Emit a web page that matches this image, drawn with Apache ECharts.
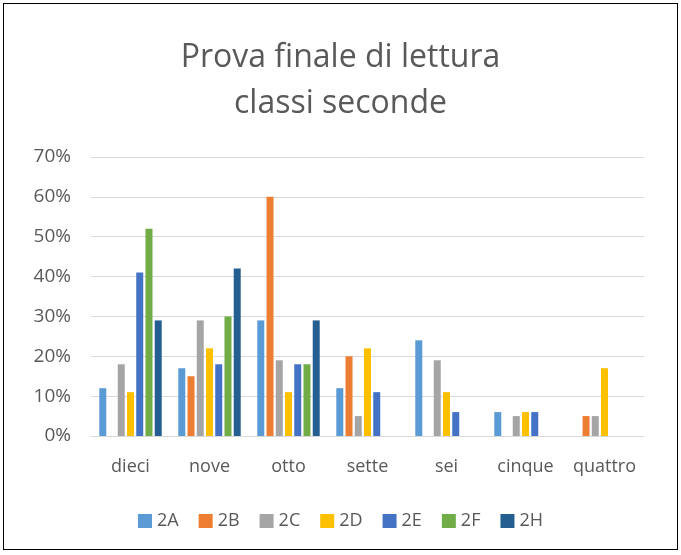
<!DOCTYPE html>
<html>
<head>
<meta charset="utf-8">
<script src="https://cdn.jsdelivr.net/npm/echarts@6/dist/echarts.min.js"></script>
<style>
  html, body { margin: 0; padding: 0; background: #fff; }
  #chart {
    position: absolute; left: 3px; top: 3px;
    width: 673px; height: 545px;
    border: 1px solid #000;
  }
</style>
</head>
<body>
<div id="chart"></div>
<script>
var categories = ['dieci', 'nove', 'otto', 'sette', 'sei', 'cinque', 'quattro']
var classes = ['2A', '2B', '2C', '2D', '2E', '2F', '2H']
var colors = ['#5b9bd5', '#ed7d31', '#a5a5a5', '#ffc000', '#4472c4', '#70ad47', '#255e91']
// percentuali per classe, nell'ordine delle categorie
var v2A = [12, 17, 29, 12, 24, 6, 0]
var v2B = [0, 15, 60, 20, 0, 0, 5]
var v2C = [18, 29, 19, 5, 19, 5, 5]
var v2D = [11, 22, 11, 22, 11, 6, 17]
var v2E = [41, 18, 18, 11, 6, 6, 0]
var v2F = [52, 30, 18, 0, 0, 0, 0]
var v2H = [29, 42, 29, 0, 0, 0, 0]
var yTicks = [0, 10, 20, 30, 40, 50, 60, 70]

var values = [v2A, v2B, v2C, v2D, v2E, v2F, v2H]
var font = 'Open Sans, Liberation Sans, sans-serif'

var myChart = echarts.init(document.getElementById('chart'))
var series = classes.map(function (name, i) {
  return {
    name: name,
    type: 'bar',
    barWidth: 7,
    barGap: '32%',
    data: values[i],
    itemStyle: { color: colors[i] }
  }
})

var option = {
  animation: false,
  color: colors,
  title: {
    text: 'Prova finale di lettura\nclassi seconde',
    left: 'center',
    top: 26,
    textStyle: {
      fontFamily: font,
      fontSize: 32,
      fontWeight: 'normal',
      color: '#595959',
      lineHeight: 46
    }
  },
  legend: {
    bottom: 14,
    left: 'center',
    itemWidth: 14,
    itemHeight: 14,
    itemGap: 20,
    icon: 'rect',
    textStyle: { fontFamily: font, fontSize: 18, color: '#595959' },
    data: classes
  },
  grid: {
    left: 87,
    right: 33,
    top: 153,
    bottom: 113,
    containLabel: false
  },
  xAxis: {
    type: 'category',
    data: categories,
    axisTick: { show: false },
    axisLine: { lineStyle: { color: '#d9d9d9', width: 1 } },
    axisLabel: { interval: 0, fontFamily: font, fontSize: 18, color: '#595959', margin: 22 }
  },
  yAxis: {
    type: 'value',
    min: yTicks[0],
    max: yTicks[yTicks.length - 1],
    interval: 10,
    axisLine: { show: false },
    axisTick: { show: false },
    splitLine: { lineStyle: { color: '#d9d9d9', width: 1 } },
    axisLabel: {
      fontFamily: font,
      fontSize: 19,
      color: '#595959',
      margin: 20,
      formatter: '{value}%'
    }
  },
  series: series
}

myChart.setOption(option)
</script>
</body>
</html>
